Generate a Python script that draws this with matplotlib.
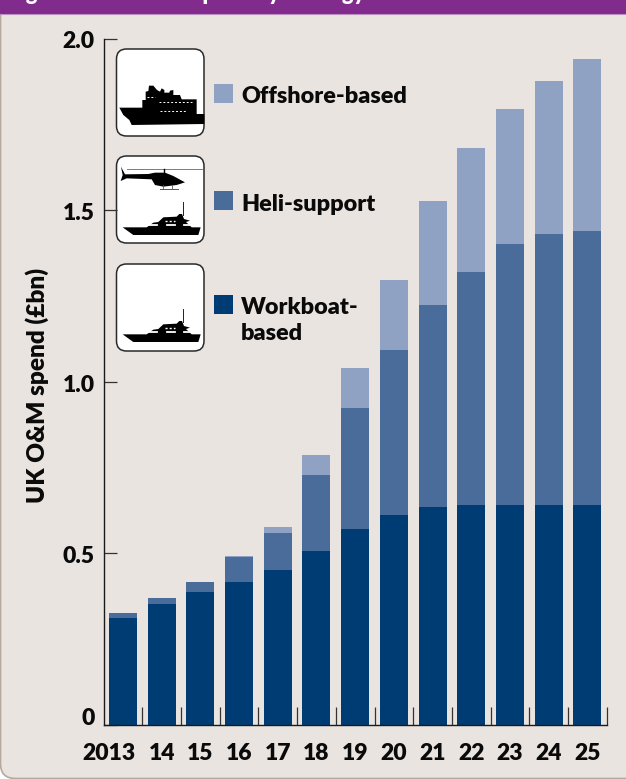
import numpy as np
from matplotlib import pyplot as plt
from matplotlib.patches import FancyBboxPatch, Polygon, Rectangle

plt.rcParams['font.family'] = ['Lato', 'DejaVu Sans']
plt.rcParams['font.weight'] = 'heavy'

YEARS = ['2013', '14', '15', '16', '17', '18', '19', '20', '21', '22', '23', '24', '25']
WORKBOAT = [0.312, 0.352, 0.388, 0.417, 0.452, 0.507, 0.571, 0.612, 0.635, 0.640, 0.640, 0.640, 0.640]
HELI = [0.014, 0.018, 0.029, 0.073, 0.108, 0.221, 0.352, 0.480, 0.588, 0.680, 0.760, 0.790, 0.800]
OFFSHORE = [0.0, 0.0, 0.0, 0.002, 0.017, 0.058, 0.117, 0.204, 0.303, 0.360, 0.394, 0.446, 0.500]
Y_TICKS = [0, 0.5, 1.0, 1.5, 2.0]
Y_LABELS = ['0', '0.5', '1.0', '1.5', '2.0']

WORK_COL = '#003c74'
HELI_COL = '#4a6c9b'
OFF_COL = '#8fa2c3'
PANEL_COL = '#e9e4e0'
BAND_COL = '#812b8c'
INK = '#0a0a0a'

W, H = 626, 779

# icon outlines, in 3x units from the top left of a 105 px tile
SHIP = [(28, 203), (97, 203), (97, 180), (107, 180), (107, 155), (115, 153), (117, 137), (130, 137),
        (141, 150), (150, 155), (155, 145), (163, 150), (163, 158), (178, 158), (180, 152), (190, 150),
        (190, 165), (210, 165), (215, 178), (260, 178), (260, 222), (283, 222), (283, 252), (65, 255),
        (58, 240), (40, 225)]
YACHT = [(38, 232), (110, 232), (130, 218), (145, 216), (160, 202), (200, 200), (208, 192), (216, 192),
         (222, 207), (240, 212), (228, 216), (245, 232), (272, 232), (265, 255), (70, 255)]
HELICOPTER = [(115, 72), (135, 68), (165, 68), (190, 78), (225, 97), (200, 105), (160, 110), (135, 105),
              (125, 88), (50, 85), (32, 93), (38, 75), (33, 50), (45, 73)]


def draw_tile(ax, x, y):
    box = FancyBboxPatch((x + 10, y + 10), 67.5, 67, boxstyle='round,pad=10', fc='white', ec='#2a2a2a', lw=1.1)
    ax.add_patch(box)


def draw_icon(ax, points, ox, oy):
    pts = [(ox + px / 3, oy + py / 3) for px, py in points]
    ax.add_patch(Polygon(pts, closed=True, fc='black', ec='none'))


def draw_ship(ax, ox, oy):
    draw_icon(ax, SHIP, ox, oy)
    for yy, x0, x1 in [(170, 112, 135), (187, 148, 245), (214, 150, 232)]:
        ax.plot([ox + x0 / 3, ox + x1 / 3], [oy + yy / 3, oy + yy / 3], color='white', lw=0.7, ls=(0, (2, 2)))


def draw_yacht(ax, ox, oy):
    draw_icon(ax, YACHT, ox, oy)
    ax.plot([ox + 218 / 3, ox + 218 / 3], [oy + 157 / 3, oy + 195 / 3], color='#222222', lw=0.7)
    for x0, x1, yy in [(118, 142, 226), (170, 195, 226), (222, 243, 226)]:
        ax.plot([ox + x0 / 3, ox + x1 / 3], [oy + yy / 3, oy + yy / 3], color='white', lw=1.3)
    ax.plot([ox + 165 / 3, ox + 195 / 3], [oy + 212 / 3, oy + 212 / 3], color='white', lw=1.0, ls=(0, (1.5, 1.5)))


def draw_helicopter(ax, ox, oy):
    draw_icon(ax, HELICOPTER, ox, oy)
    ax.plot([ox + 50 / 3, ox + 275 / 3], [oy + 58 / 3, oy + 58 / 3], color='#666666', lw=0.6)
    ax.plot([ox + 162 / 3, ox + 162 / 3], [oy + 58 / 3, oy + 70 / 3], color='black', lw=1.0)
    ax.plot([ox + 150 / 3, ox + 205 / 3], [oy + 118 / 3, oy + 118 / 3], color='#555555', lw=0.7)
    for sx in (160, 185):
        ax.plot([ox + sx / 3, ox + sx / 3], [oy + 106 / 3, oy + 118 / 3], color='#555555', lw=0.6)


fig = plt.figure(figsize=(W / 100, H / 100), dpi=100, facecolor='white')

# backdrop, header band and legend artwork share a pixel grid
bg = fig.add_axes([0, 0, 1, 1], zorder=0)
bg.set_xlim(0, W)
bg.set_ylim(H, 0)
bg.axis('off')
bg.add_patch(FancyBboxPatch((15.5, 0), W + 40, H - 15.5, boxstyle='round,pad=15', fc=PANEL_COL, ec='#b5a99f', lw=1.2))
bg.add_patch(Rectangle((0, 0), W, 14, fc=BAND_COL, ec='none'))
bg.plot([0, W], [14.3, 14.3], color='#b98fbf', lw=0.8)
bg.text(8, -0.5, 'Figure 2: UK O&M spend by strategy', color='white', fontsize=15.5, ha='left', va='baseline')

for top in (49, 156, 264):
    draw_tile(bg, 116.5, top)
draw_ship(bg, 110, 40)
draw_helicopter(bg, 110, 150)
draw_yacht(bg, 110, 150)
draw_yacht(bg, 110, 257)

for top, col in [(84, OFF_COL), (191, HELI_COL), (295, WORK_COL)]:
    bg.add_patch(Rectangle((214, top), 19, 19, fc=col, ec='none'))
LEGEND_SIZE = 16.8
bg.text(241, 96, 'Offshore-based', fontsize=LEGEND_SIZE, va='center', color=INK)
bg.text(241, 204, 'Heli-support', fontsize=LEGEND_SIZE, va='center', color=INK)
bg.text(241, 307, 'Workboat-', fontsize=LEGEND_SIZE, va='center', color=INK)
bg.text(241, 333, 'based', fontsize=LEGEND_SIZE, va='center', color=INK)

# stacked bars
left, right, top, base = 103.6, 606.7, 38.5, 725
ax = fig.add_axes([left / W, 1 - base / H, (right - left) / W, (base - top) / H], zorder=1)
ax.patch.set_alpha(0)

x = np.arange(len(YEARS))
work = np.array(WORKBOAT)
heli = np.array(HELI)
off = np.array(OFFSHORE)
ax.bar(x, work, width=0.724, color=WORK_COL)
ax.bar(x, heli, width=0.724, bottom=work, color=HELI_COL)
ax.bar(x, off, width=0.724, bottom=work + heli, color=OFF_COL)

ax.set_xlim(-0.5, len(YEARS) - 0.5)
ax.set_ylim(0, 2)
for side in ('top', 'right'):
    ax.spines[side].set_visible(False)
for side in ('left', 'bottom'):
    ax.spines[side].set_linewidth(1.0)
    ax.spines[side].set_color('#1a1a1a')

ax.set_xticks(x + 0.5)
ax.set_xticklabels([])
ax.tick_params(axis='x', direction='in', length=13, width=0.9, color='#333333')
ax.set_yticks(Y_TICKS)
ax.set_yticklabels([])
ax.tick_params(axis='y', direction='in', length=9.4, width=0.9, color='#333333')

# year labels hang below the axis, the first one set off to the left
for i, label in enumerate(YEARS):
    if i == 0:
        ax.annotate(label, (i, 0), xytext=(9, -20.5), textcoords='offset points', ha='right', va='center', fontsize=16.5, color=INK)
    else:
        ax.annotate(label, (i, 0), xytext=(0, -20.5), textcoords='offset points', ha='center', va='center', fontsize=16.5, color=INK)

# the zero label sits a little higher than the others
for val, label in zip(Y_TICKS, Y_LABELS):
    dy = 5 if val == 0 else -2.5
    ax.annotate(label, (0, val), xycoords=('axes fraction', 'data'), xytext=(-6.5, dy), textcoords='offset points', ha='right', va='center', fontsize=16.5, color=INK)

ax.annotate('UK O&M spend (£bn)', (0, 0.5), xycoords='axes fraction', xytext=(-48, -2.5), textcoords='offset points', rotation=90, ha='center', va='center', fontsize=17.6, color=INK)

plt.savefig('out.png', dpi=100)
